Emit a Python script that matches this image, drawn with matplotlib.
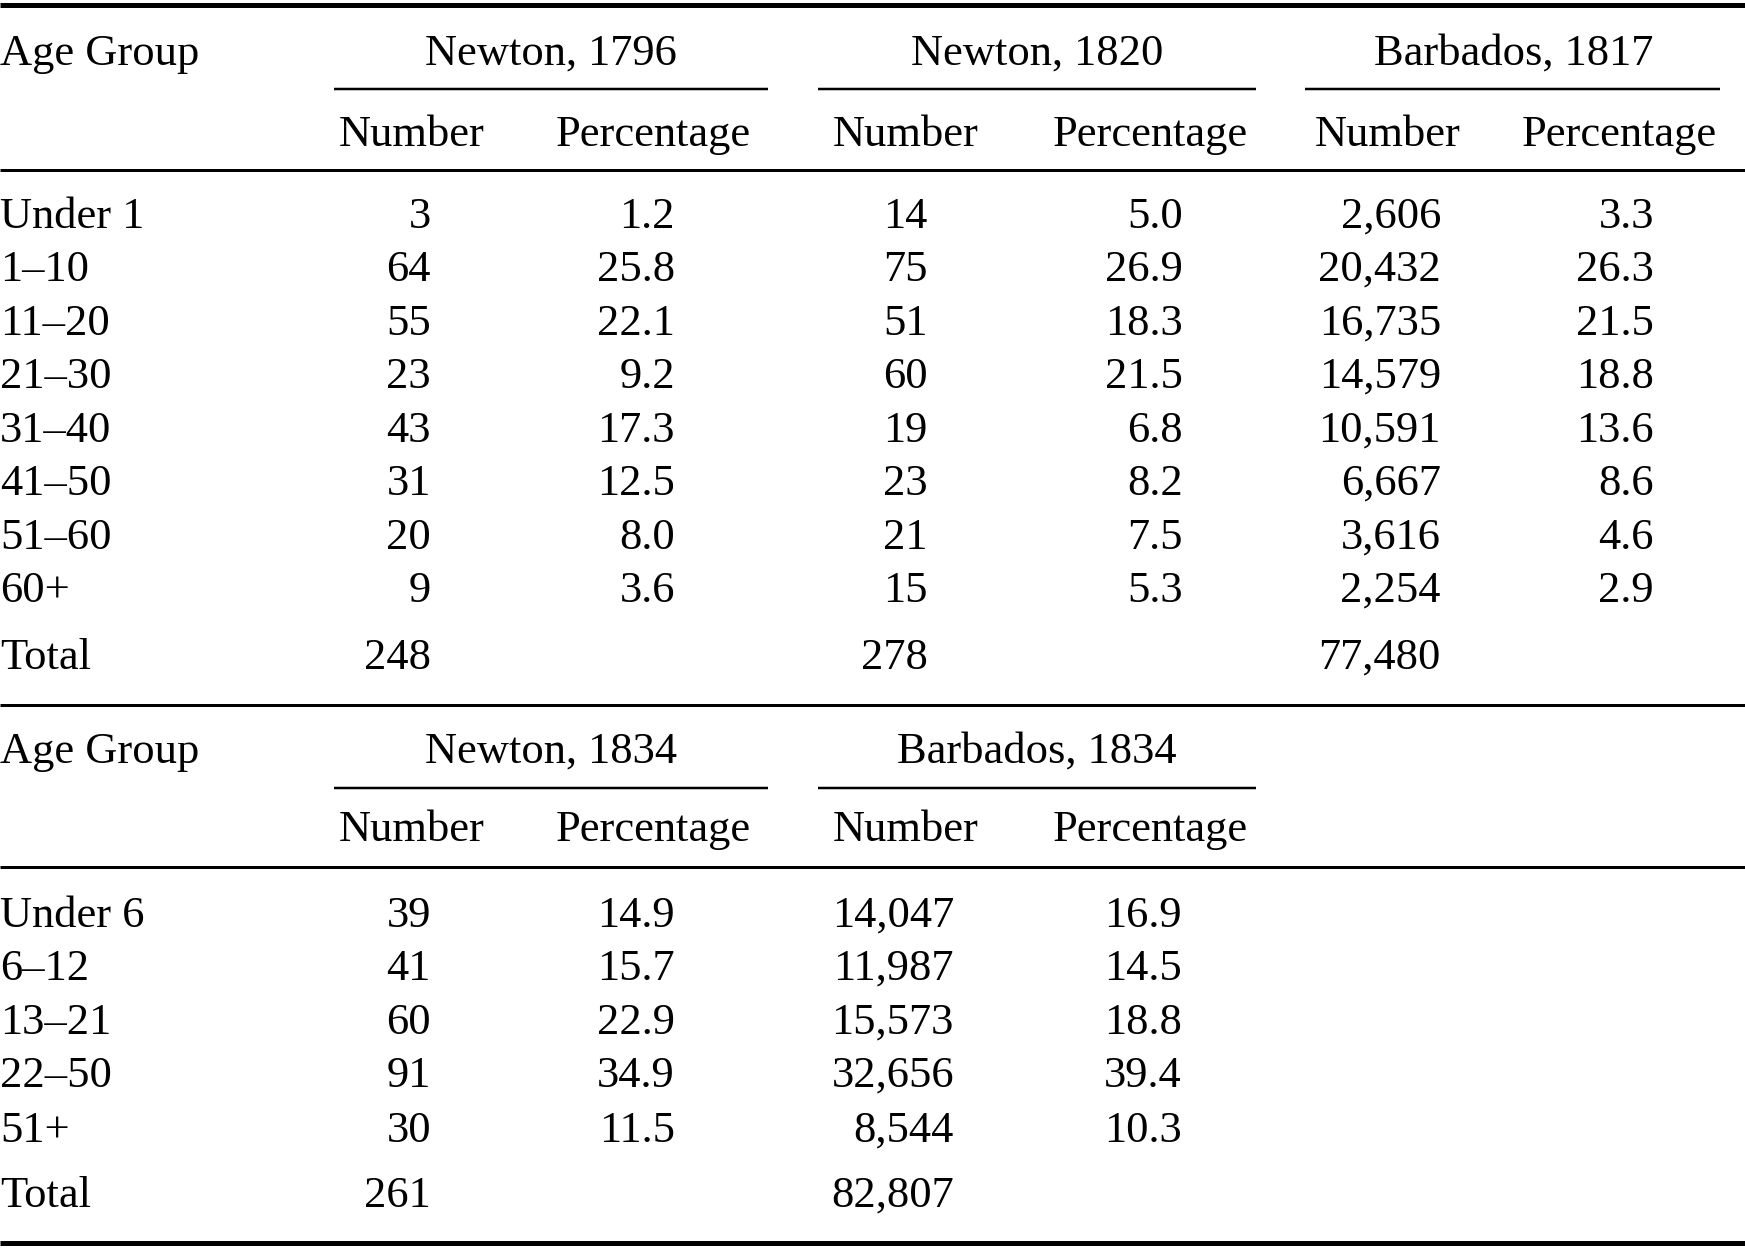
import matplotlib
matplotlib.use("Agg")
import matplotlib.pyplot as plt

# ---------------- data ----------------
age_groups_1 = ["Under 1", "1–10", "11–20", "21–30", "31–40", "41–50", "51–60", "60+"]
newton_1796_num = [3, 64, 55, 23, 43, 31, 20, 9]
newton_1796_pct = [1.2, 25.8, 22.1, 9.2, 17.3, 12.5, 8.0, 3.6]
newton_1820_num = [14, 75, 51, 60, 19, 23, 21, 15]
newton_1820_pct = [5.0, 26.9, 18.3, 21.5, 6.8, 8.2, 7.5, 5.3]
barbados_1817_num = [2606, 20432, 16735, 14579, 10591, 6667, 3616, 2254]
barbados_1817_pct = [3.3, 26.3, 21.5, 18.8, 13.6, 8.6, 4.6, 2.9]
totals_1 = [248, 278, 77480]
headers_1 = ["Newton, 1796", "Newton, 1820", "Barbados, 1817"]

age_groups_2 = ["Under 6", "6–12", "13–21", "22–50", "51+"]
newton_1834_num = [39, 41, 60, 91, 30]
newton_1834_pct = [14.9, 15.7, 22.9, 34.9, 11.5]
barbados_1834_num = [14047, 11987, 15573, 32656, 8544]
barbados_1834_pct = [16.9, 14.5, 18.8, 39.4, 10.3]
totals_2 = [261, 82807]
headers_2 = ["Newton, 1834", "Barbados, 1834"]

sub_headers = ["Number", "Percentage"]

# ---------------- layout ----------------
W, H = 1745, 1248
fig = plt.figure(figsize=(W / 100, H / 100), dpi=100)
ax = fig.add_axes([0, 0, 1, 1])
ax.set_xlim(0, W)
ax.set_ylim(H, 0)
ax.axis("off")

FONT = "Liberation Serif"
FS = 32

def txt(x, y, s, ha="left"):
    ax.text(x, y, s, ha=ha, va="baseline", fontsize=FS, family=FONT, color="black")

def rule(y, x0=0, x1=W, px=3):
    ax.plot([x0, x1], [y, y], color="black", lw=px * 0.72, solid_capstyle="butt")

num_right = [431, 928, 1441]
pct_right = [675, 1183, 1654]
grp_center = [551, 1037, 1514]
num_center = [412, 906, 1388]
pct_center = [653, 1150, 1619]
cmid_span = [(334, 768), (818, 1256), (1305, 1720)]

# ---- Table 1 ----
rule(4.5, px=5)
txt(0, 65, "Age Group")
for i, h in enumerate(headers_1):
    txt(grp_center[i], 65, h, ha="center")
    rule(89, cmid_span[i][0], cmid_span[i][1], px=2.5)
    txt(num_center[i], 146, sub_headers[0], ha="center")
    txt(pct_center[i], 146, sub_headers[1], ha="center")
rule(170, px=3)

rows1_y = [228, 281, 335, 388, 442, 495, 549, 602]
cols1 = [(newton_1796_num, newton_1796_pct),
         (newton_1820_num, newton_1820_pct),
         (barbados_1817_num, barbados_1817_pct)]
for r, y in enumerate(rows1_y):
    txt(0, y, age_groups_1[r])
    for c, (nums, pcts) in enumerate(cols1):
        txt(num_right[c], y, f"{nums[r]:,}", ha="right")
        txt(pct_right[c], y, f"{pcts[r]:.1f}", ha="right")
txt(0, 669, "Total")
for c, t in enumerate(totals_1):
    txt(num_right[c], 669, f"{t:,}", ha="right")

rule(705, px=3)

# ---- Table 2 ----
num_right2 = [431, 954]
pct_right2 = [675, 1182]
txt(0, 763, "Age Group")
for i, h in enumerate(headers_2):
    txt(grp_center[i], 763, h, ha="center")
    rule(788, cmid_span[i][0], cmid_span[i][1], px=2.5)
    txt(num_center[i], 841, sub_headers[0], ha="center")
    txt(pct_center[i], 841, sub_headers[1], ha="center")
rule(867, px=3)

rows2_y = [927, 980, 1034, 1087, 1142]
cols2 = [(newton_1834_num, newton_1834_pct),
         (barbados_1834_num, barbados_1834_pct)]
for r, y in enumerate(rows2_y):
    txt(0, y, age_groups_2[r])
    for c, (nums, pcts) in enumerate(cols2):
        txt(num_right2[c], y, f"{nums[r]:,}", ha="right")
        txt(pct_right2[c], y, f"{pcts[r]:.1f}", ha="right")
txt(0, 1207, "Total")
for c, t in enumerate(totals_2):
    txt(num_right2[c], 1207, f"{t:,}", ha="right")

rule(1243, px=5)

fig.savefig("out.png", dpi=100, facecolor="white")
